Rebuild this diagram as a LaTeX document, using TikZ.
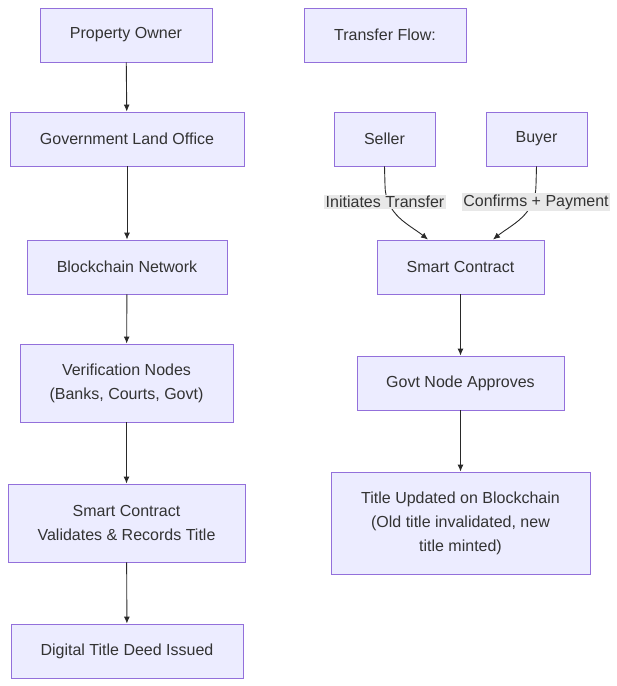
\documentclass[tikz,border=0pt]{standalone}
\usepackage{fontspec}
\setmainfont{Liberation Sans}
\usetikzlibrary{arrows.meta}
\definecolor{nfill}{HTML}{ECECFF}
\definecolor{ndraw}{HTML}{9370DB}
\definecolor{ntext}{HTML}{333333}
\definecolor{lblbg}{HTML}{E8E8E8}
\begin{document}
\begin{tikzpicture}[x=1pt,y=-1pt,
  box/.style={draw=ndraw,fill=nfill,line width=0.9pt,text=ntext,align=center,inner sep=0pt,font=\fontsize{16}{24}\selectfont},
  arr/.style={draw=ntext!80!black,line width=0.9pt,-{Latex[length=7pt,width=6pt]}},
  lbl/.style={fill=lblbg,text=ntext,inner sep=1.5pt,font=\fontsize{16}{20}\selectfont}]
\useasboundingbox (0,0) rectangle (617,686);
\newcommand{\bx}[6]{\node[box,minimum width=#4-#2,minimum height=#5-#3] (#1) at ({(#2+#4)/2},{(#3+#5)/2}) {#6};}
\bx{po}{40}{8}{212}{62}{Property Owner}
\bx{tf}{304}{8}{466}{62}{Transfer Flow:}
\bx{glo}{10}{112}{244}{166}{Government Land Office}
\bx{sel}{334}{112}{435}{166}{Seller}
\bx{buy}{486}{112}{587}{166}{Buyer}
\bx{bn}{27}{240}{227}{294}{Blockchain Network}
\bx{sc}{377}{240}{544}{294}{Smart Contract}
\bx{vn}{20}{344}{233}{422}{Verification Nodes\\(Banks, Courts, Govt)}
\bx{gna}{357}{356}{564}{410}{Govt Node Approves}
\bx{scv}{8}{484}{245}{562}{Smart Contract\\Validates \& Records Title}
\bx{tu}{331}{472}{590}{574}{Title Updated on Blockchain\\(Old title invalidated, new\\title minted)}
\bx{dtd}{11}{624}{243}{678}{Digital Title Deed Issued}
\draw[arr] (po) -- (glo);
\draw[arr] (glo) -- (bn);
\draw[arr] (bn) -- (vn);
\draw[arr] (vn) -- (scv);
\draw[arr] (scv) -- (dtd);
\draw[arr] (sc) -- (gna);
\draw[arr] (gna) -- (tu);
\coordinate (s1) at (428,240);
\coordinate (b1) at (493,240);
\draw[arr] (sel.south) -- (385,185) .. controls (385,215) and (410,225) .. (sc.north -| s1);
\draw[arr] (buy.south) -- (536,185) .. controls (536,215) and (511,225) .. (sc.north -| b1);
\node[lbl] (l1) at (385,202) {Initiates Transfer};
\node[lbl] (l2) at (536,202) {Confirms + Payment};
\end{tikzpicture}
\end{document}
